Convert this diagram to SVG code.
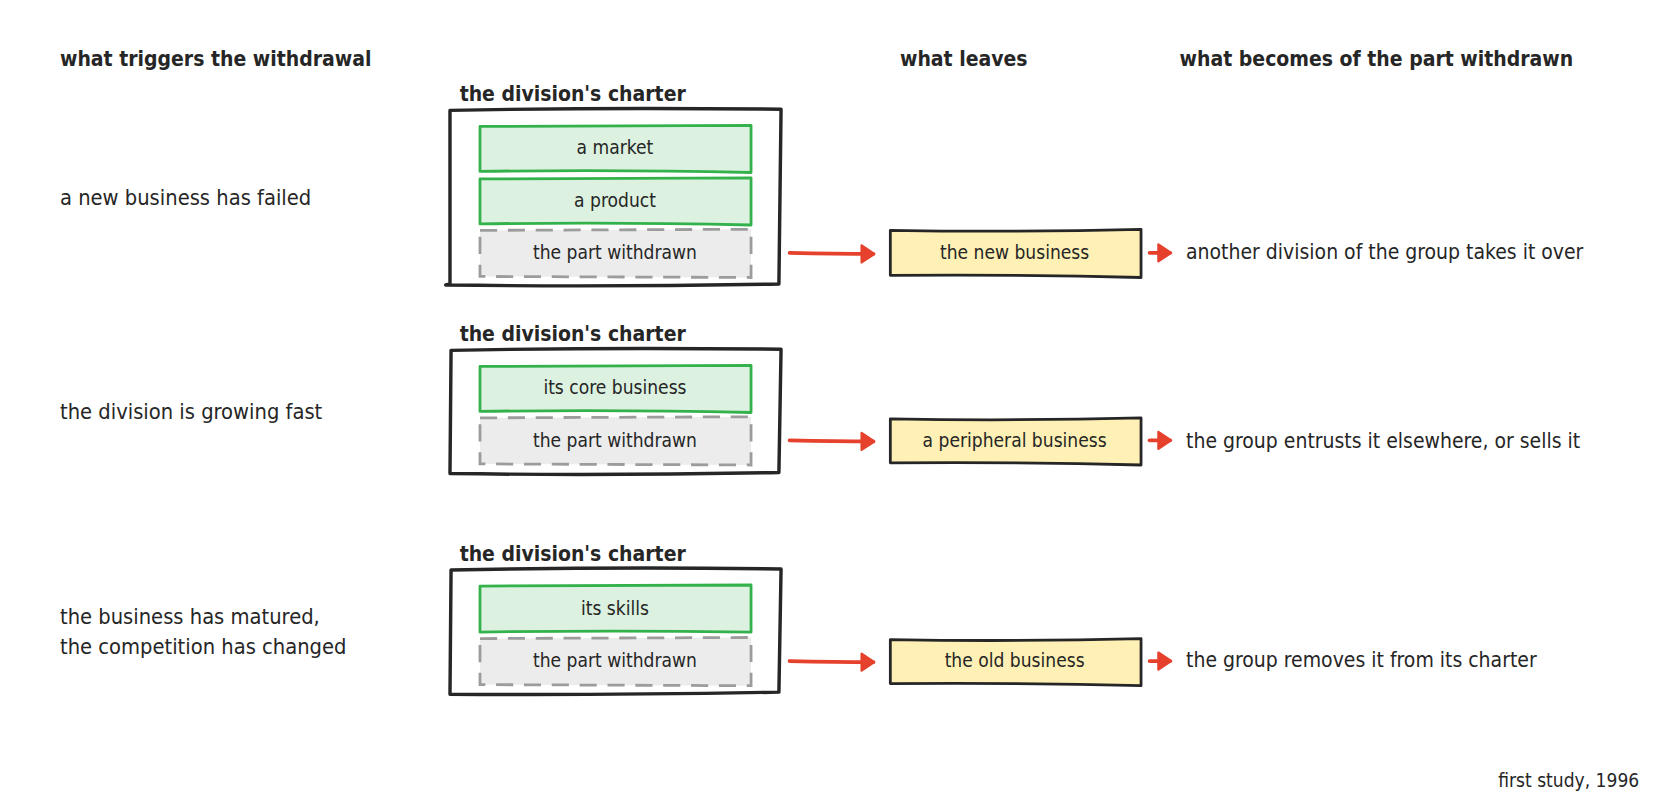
<svg xmlns="http://www.w3.org/2000/svg" width="1680" height="800" viewBox="0 0 1680 800">
<style>
text{font-family:"DejaVu Sans Condensed","DejaVu Sans",sans-serif;font-stretch:condensed;fill:#262626}
.h{font-weight:bold;font-size:19.6px}
.l{font-size:19.6px}
.t{font-size:20.3px}
.b{font-size:17.8px;text-anchor:middle}
.ch{fill:#fff;stroke:#262626;stroke-width:3.2;stroke-linejoin:round}
.g{fill:#dcf1e0;stroke:#33b24b;stroke-width:2.6;stroke-linejoin:round}
.w{fill:#ececec;stroke:#9c9c9c;stroke-width:2.6;stroke-dasharray:16 10}
.y{fill:#fff1b5;stroke:#262626;stroke-width:2.6;stroke-linejoin:round}
.a{fill:none;stroke:#e5412d;stroke-width:3.6;stroke-linecap:round}
</style>
<defs><marker id="m" markerWidth="6" markerHeight="6" refX="3.5" refY="3" orient="auto" markerUnits="strokeWidth"><path d="M0.5,0.8 L3.8,3 L0.5,5.2 Z" fill="#e5412d" stroke="#e5412d" stroke-width="0.6" stroke-linejoin="round"/></marker></defs>
<rect width="1680" height="800" fill="#fff"/>
<g transform="scale(1.0714)">
<g id="headers">
<text class="h" x="56" y="62">what triggers the withdrawal</text>
<text class="h" x="840" y="62">what leaves</text>
<text class="h" x="1101" y="62">what becomes of the part withdrawn</text>
<text x="1530" y="735" style="font-size:17.8px;text-anchor:end">first study, 1996</text>
</g>
<g id="row1">
<text class="t" x="56" y="191">a new business has failed</text>
<text class="h" x="429" y="94">the division's charter</text>
<path class="ch" d="M420,103 Q570,100 729,102 L727,265 Q570,268 416,266 L420,265 Z"/>
<path class="g" d="M448,118 L701,117 L701,161 Q570,158 448,160 Z"/>
<text class="b" x="574" y="144">a market</text>
<path class="g" d="M448,167 L701,166 L701,210 Q570,207 448,209 Z"/>
<text class="b" x="574" y="193">a product</text>
<path class="w" d="M448,215 L701,214 L701,259 L448,258 Z"/>
<text class="b" x="574" y="242">the part withdrawn</text>
<path class="y" d="M831,215 Q950,217 1065,214 L1065,259 Q950,256 831,257 Z"/>
<text class="b" x="947" y="242">the new business</text>
<text class="l" x="1107" y="242">another division of the group takes it over</text>
</g>
<g id="row2">
<text class="t" x="56" y="391">the division is growing fast</text>
<text class="h" x="429" y="318">the division's charter</text>
<path class="ch" d="M421,327 Q570,324 729,326 L727,441 Q570,444 420,442 Z"/>
<path class="g" d="M448,342 L701,341 L701,385 Q570,382 448,384 Z"/>
<text class="b" x="574" y="368">its core business</text>
<path class="w" d="M448,390 L701,389 L701,434 L448,433 Z"/>
<text class="b" x="574" y="417">the part withdrawn</text>
<path class="y" d="M831,391 Q950,393 1065,390 L1065,434 Q950,431 831,432 Z"/>
<text class="b" x="947" y="417">a peripheral business</text>
<text class="l" x="1107" y="418">the group entrusts it elsewhere, or sells it</text>
</g>
<g id="row3">
<text class="t" x="56" y="582">the business has matured,</text>
<text class="t" x="56" y="610">the competition has changed</text>
<text class="h" x="429" y="524">the division's charter</text>
<path class="ch" d="M421,532 Q570,529 729,531 L727,646 Q570,649 420,648 Z"/>
<path class="g" d="M448,547 L701,546 L701,590 Q570,588 448,590 Z"/>
<text class="b" x="574" y="574">its skills</text>
<path class="w" d="M448,596 L701,595 L701,640 L448,639 Z"/>
<text class="b" x="574" y="623">the part withdrawn</text>
<path class="y" d="M831,597 Q950,599 1065,596 L1065,640 Q950,637 831,638 Z"/>
<text class="b" x="947" y="623">the old business</text>
<text class="l" x="1107" y="623">the group removes it from its charter</text>
</g>
<g id="connectors">
<path class="a" d="M737,236 Q780,237 815,237" marker-end="url(#m)"/>
<path class="a" d="M1073,236 L1092,236" marker-end="url(#m)"/>
<path class="a" d="M737,411 Q780,412 815,412" marker-end="url(#m)"/>
<path class="a" d="M1073,411 L1092,411" marker-end="url(#m)"/>
<path class="a" d="M737,617 Q780,618 815,618" marker-end="url(#m)"/>
<path class="a" d="M1073,617 L1092,617" marker-end="url(#m)"/>
</g>
</g>
</svg>
